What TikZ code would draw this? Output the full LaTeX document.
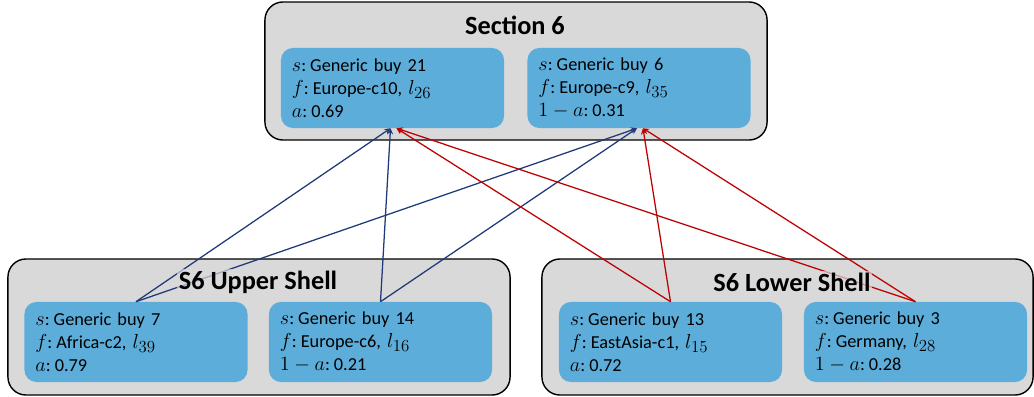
\documentclass[tikz,border=0pt]{standalone}
\usepackage{fontspec}
\setmainfont{Carlito}
\usepackage{tikz}
\usetikzlibrary{arrows}
\DeclareMathSizes{13}{15}{11.5}{9}
\definecolor{shellgray}{HTML}{D9D9D9}
\definecolor{buyblue}{HTML}{5CADDA}
\definecolor{upblue}{HTML}{1F3A78}
\definecolor{lowred}{HTML}{C00000}
\newcommand{\cl}{:\hspace{0.22em}}
\tikzset{
  shell/.style={draw=black, line width=1pt, fill=shellgray, rounded corners=0.45cm},
  buy/.style={fill=buyblue, rounded corners=0.3cm, minimum height=2cm, text width=5.025cm,
    inner xsep=0.275cm, inner ysep=0pt, align=left, font=\fontsize{13}{16.5}\selectfont},
  title/.style={font=\fontsize{18.7}{22}\selectfont\bfseries, fill=shellgray,
    fill opacity=0.7, text opacity=1, inner sep=1pt},
  link/.style={->, >=stealth, line width=0.9pt},
}

\begin{document}
\begin{tikzpicture}[x=0.025cm,y=-0.025cm]
\useasboundingbox (0,0) rectangle (1034,396);
% shells
\node[shell, minimum width=12.55cm, minimum height=3.45cm] (sec6) at (516,71) {};
\node[shell, minimum width=12.55cm, minimum height=3.4cm] (upper) at (259,327) {};
\node[shell, minimum width=12.275cm, minimum height=3.4cm] (lower) at (787.5,327) {};
% buys
\node[buy] (g21) at (392.5,88) {$s$\cl Generic buy 21\\$f$\cl Europe-c10, $l_{26}$\\$a$\cl 0.69};
\node[buy] (g6) at (639,88) {$s$\cl Generic buy 6\\$f$\cl Europe-c9, $l_{35}$\\$1-a$\cl 0.31};
\node[buy] (g7) at (136,342) {$s$\cl Generic buy 7\\$f$\cl Africa-c2, $l_{39}$\\$a$\cl 0.79};
\node[buy] (g14) at (380.5,342) {$s$\cl Generic buy 14\\$f$\cl Europe-c6, $l_{16}$\\$1-a$\cl 0.21};
\node[buy] (g13) at (670.5,342) {$s$\cl Generic buy 13\\$f$\cl EastAsia-c1, $l_{15}$\\$a$\cl 0.72};
\node[buy] (g3) at (915.5,342) {$s$\cl Generic buy 3\\$f$\cl Germany, $l_{28}$\\$1-a$\cl 0.28};
% links
\foreach \from in {g7,g14} {
  \draw[link, upblue] (\from.north) -- ([xshift=-0.05cm]g21.south);
  \draw[link, upblue] (\from.north) -- ([xshift=-0.05cm]g6.south);
}
\foreach \from in {g13,g3} {
  \draw[link, lowred] (\from.north) -- ([xshift=0.1cm]g21.south);
  \draw[link, lowred] (\from.north) -- ([xshift=0.1cm]g6.south);
}
% titles
\node[title] (t6) at (515,25) {Section 6};
\node[title] (tup) at (258,282) {S6 Upper Shell};
\node[title] (tlow) at (792,282) {S6 Lower Shell};
\end{tikzpicture}
\end{document}
